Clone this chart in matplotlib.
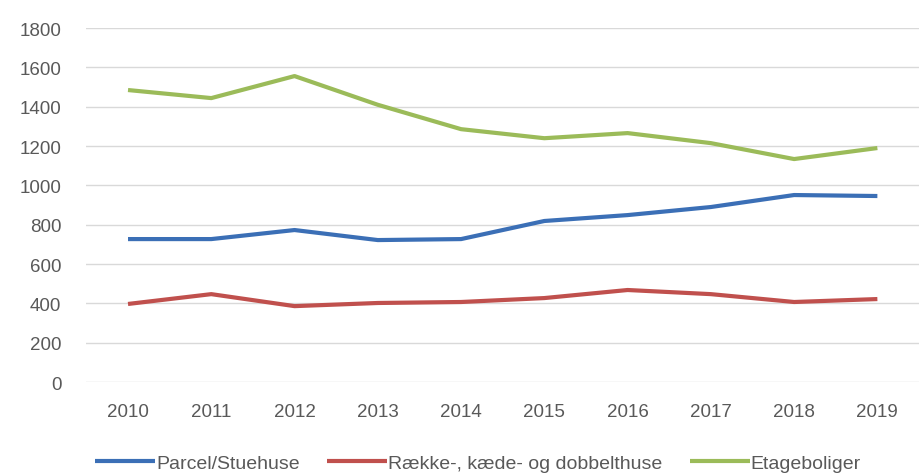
import matplotlib.pyplot as plt

years = [2010, 2011, 2012, 2013, 2014, 2015, 2016, 2017, 2018, 2019]
parcel = [727, 727, 773, 722, 727, 819, 849, 890, 951, 946]
raekke = [397, 447, 386, 402, 407, 427, 468, 447, 407, 422]
etage = [1485, 1444, 1556, 1410, 1286, 1240, 1266, 1215, 1134, 1190]
labels = ["Parcel/Stuehuse", "Række-, kæde- og dobbelthuse", "Etageboliger"]
colors = ["#3b6fb6", "#c0504d", "#9bbb59"]

plt.rcParams['font.family'] = ['Liberation Sans', 'DejaVu Sans']

fig = plt.figure(figsize=(9.19, 4.77), dpi=100)
ax = fig.add_axes([0.094, 0.197, 0.906, 0.742])

for vals, lab, col in zip([parcel, raekke, etage], labels, colors):
    ax.plot(years, vals, color=col, linewidth=3, label=lab, solid_capstyle='butt')

ax.set_xlim(2009.5, 2019.5)
ax.set_ylim(0, 1800)
ax.set_yticks(range(0, 1801, 200))
ax.set_xticks(years)
ax.grid(axis='y', color='#d9d9d9', linewidth=1)
ax.set_axisbelow(True)
for s in ax.spines.values():
    s.set_visible(False)
ax.tick_params(length=0, labelsize=13.5, colors='#595959')
ax.tick_params(axis='x', pad=15)
ax.tick_params(axis='y', pad=18)

fig.legend(loc='center', bbox_to_anchor=(0.52, 0.027), ncol=3, frameon=False,
           fontsize=14, handlelength=3.1, handletextpad=0.05, columnspacing=1.4,
           labelcolor='#595959')

fig.savefig("out.png", dpi=100)
